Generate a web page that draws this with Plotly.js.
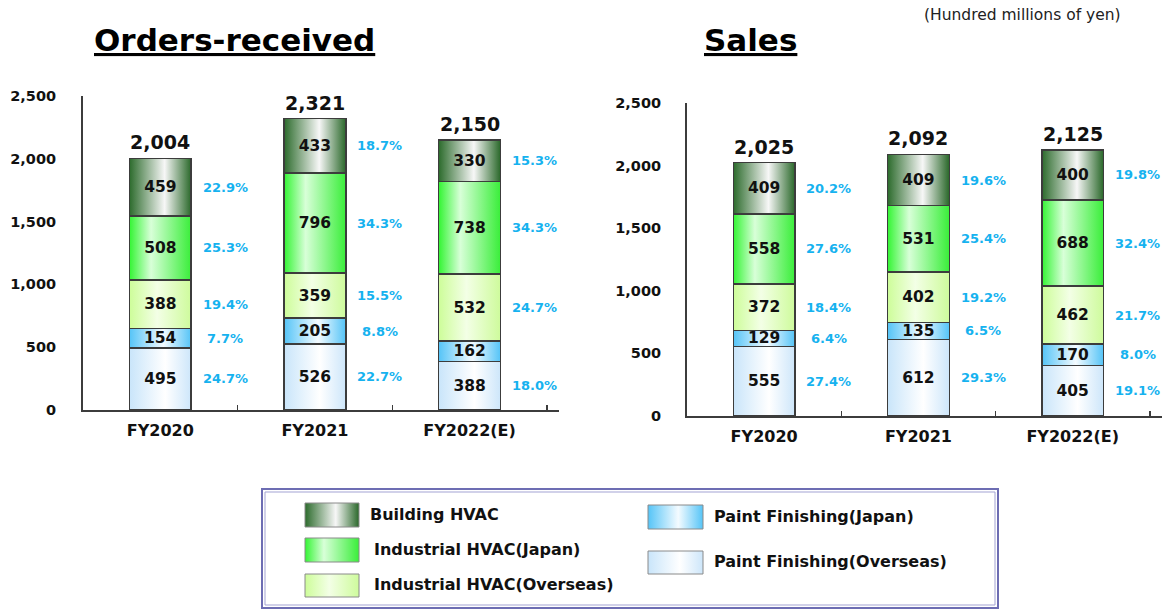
<!DOCTYPE html>
<html>
<head>
<meta charset="utf-8">
<script src="https://cdn.plot.ly/plotly-3.0.1.min.js"></script>
<style>
  html, body { margin: 0; padding: 0; background: #ffffff; }
  #chart { width: 1176px; height: 610px; }
</style>
</head>
<body>
<div id="chart"></div>
<script>
// ---------------- DATA ----------------
const categories = ['FY2020', 'FY2021', 'FY2022(E)'];
const seriesNames = ['Paint Finishing(Overseas)', 'Paint Finishing(Japan)', 'Industrial HVAC(Overseas)', 'Industrial HVAC(Japan)', 'Building HVAC'];

// Orders-received (Hundred millions of yen)
const ordersPaintOverseas = [495, 526, 388];
const ordersPaintJapan = [154, 205, 162];
const ordersIndustrialOverseas = [388, 359, 532];
const ordersIndustrialJapan = [508, 796, 738];
const ordersBuilding = [459, 433, 330];
const ordersTotals = [2004, 2321, 2150];
// share (%) labels, null = not shown
const ordersPctPaintOverseas = [24.7, 22.7, 18.0];
const ordersPctPaintJapan = [7.7, 8.8, null];
const ordersPctIndustrialOverseas = [19.4, 15.5, 24.7];
const ordersPctIndustrialJapan = [25.3, 34.3, 34.3];
const ordersPctBuilding = [22.9, 18.7, 15.3];

// Sales (Hundred millions of yen)
const salesPaintOverseas = [555, 612, 405];
const salesPaintJapan = [129, 135, 170];
const salesIndustrialOverseas = [372, 402, 462];
const salesIndustrialJapan = [558, 531, 688];
const salesBuilding = [409, 409, 400];
const salesTotals = [2025, 2092, 2125];
const salesPctPaintOverseas = [27.4, 29.3, 19.1];
const salesPctPaintJapan = [6.4, 6.5, 8.0];
const salesPctIndustrialOverseas = [18.4, 19.2, 21.7];
const salesPctIndustrialJapan = [27.6, 25.4, 32.4];
const salesPctBuilding = [20.2, 19.6, 19.8];

const yTickVals = [0, 500, 1000, 1500, 2000, 2500];
const yTickLabels = ['0', '500', '1,000', '1,500', '2,000', '2,500'];

const chartTitles = ['Orders-received', 'Sales'];
const unitNote = '(Hundred millions of yen)';

// ---------------- STYLE ----------------
const W = 1176, H = 610;
const px = x => x / W;
const py = y => 1 - y / H;
const FONT = 'DejaVu Sans, Verdana, sans-serif';
const PCT_COLOR = '#16b2ef';
const BORDER = '#3c3c3c';

// gradient stops (left -> right) and a solid fallback per series
const seriesStyles = [
  { solid: '#dff0fc', stops: [[0, '#c9e5fa'], [0.58, '#ffffff'], [1, '#cde6fa']] },
  { solid: '#8fd6fa', stops: [[0, '#55c4f7'], [0.55, '#f4fbff'], [1, '#55c4f7']] },
  { solid: '#e2ffc4', stops: [[0, '#cdfd99'], [0.45, '#f3ffe6'], [1, '#cefb9c']] },
  { solid: '#66ff66', stops: [[0, '#33f533'], [0.35, '#d8ffd8'], [1, '#3aee3a']] },
  { solid: '#7aa87a', stops: [[0, '#2c6b2c'], [0.57, '#f7f7f7'], [1, '#2a682a']] }
];

// ---------------- BUILD ----------------
const charts = [
  {
    values: [ordersPaintOverseas, ordersPaintJapan, ordersIndustrialOverseas, ordersIndustrialJapan, ordersBuilding],
    pcts: [ordersPctPaintOverseas, ordersPctPaintJapan, ordersPctIndustrialOverseas, ordersPctIndustrialJapan, ordersPctBuilding],
    totals: ordersTotals, xa: 'x', ya: 'y'
  },
  {
    values: [salesPaintOverseas, salesPaintJapan, salesIndustrialOverseas, salesIndustrialJapan, salesBuilding],
    pcts: [salesPctPaintOverseas, salesPctPaintJapan, salesPctIndustrialOverseas, salesPctIndustrialJapan, salesPctBuilding],
    totals: salesTotals, xa: 'x2', ya: 'y2'
  }
];

const data = [];
const annotations = [];

charts.forEach(ch => {
  const base = categories.map(() => 0);
  ch.values.forEach((vals, s) => {
    data.push({
      type: 'bar',
      name: seriesNames[s],
      x: categories,
      y: vals,
      xaxis: ch.xa,
      yaxis: ch.ya,
      marker: { color: seriesStyles[s].solid, line: { color: BORDER, width: 1.5 } },
      texttemplate: '%{y}',
      textposition: 'inside',
      insidetextanchor: 'middle',
      constraintext: 'none',
      textangle: 0,
      textfont: { family: FONT, size: 15.5, weight: 'bold', color: '#111111' },
      hoverinfo: 'skip',
      showlegend: false
    });
    vals.forEach((v, i) => {
      const p = ch.pcts[s][i];
      if (p !== null && p !== undefined) {
        annotations.push({
          xref: ch.xa, yref: ch.ya,
          x: i + 0.42, y: base[i] + v / 2,
          text: p.toFixed(1) + '%',
          showarrow: false, xanchor: 'center', yanchor: 'middle',
          font: { family: FONT, size: 13, weight: 'bold', color: PCT_COLOR }
        });
      }
      base[i] += v;
    });
  });
  ch.totals.forEach((t, i) => {
    annotations.push({
      xref: ch.xa, yref: ch.ya,
      x: categories[i], y: base[i],
      text: t.toLocaleString('en-US'),
      showarrow: false, xanchor: 'center', yanchor: 'bottom', yshift: 3,
      font: { family: FONT, size: 19, weight: 'bold', color: '#111111' }
    });
  });
});

// titles
annotations.push({
  xref: 'paper', yref: 'paper', x: px(234), y: py(40), xanchor: 'center', yanchor: 'middle',
  text: chartTitles[0], showarrow: false,
  font: { family: FONT, size: 31, weight: 'bold', color: '#000000', lineposition: 'under' }
});
annotations.push({
  xref: 'paper', yref: 'paper', x: px(750), y: py(40), xanchor: 'center', yanchor: 'middle',
  text: chartTitles[1], showarrow: false,
  font: { family: FONT, size: 31, weight: 'bold', color: '#000000', lineposition: 'under' }
});
annotations.push({
  xref: 'paper', yref: 'paper', x: px(1022), y: py(15), xanchor: 'center', yanchor: 'middle',
  text: unitNote, showarrow: false,
  font: { family: FONT, size: 15.5, color: '#222222' }
});

// legend (manual, two columns)
const shapes = [
  { type: 'rect', xref: 'paper', yref: 'paper', x0: px(262), x1: px(998), y0: py(489), y1: py(608),
    line: { color: '#6d6db3', width: 2 }, fillcolor: 'rgba(0,0,0,0)' },
  { type: 'rect', xref: 'paper', yref: 'paper', x0: px(265), x1: px(995), y0: py(492), y1: py(605),
    line: { color: '#a3a3d3', width: 1 }, fillcolor: 'rgba(0,0,0,0)' }
];
const legendOrder = [4, 3, 2, 1, 0];
const legendPos = [
  { x0: 305, x1: 359, y0: 503, y1: 527, tx: 368 },
  { x0: 305, x1: 359, y0: 538, y1: 562, tx: 372 },
  { x0: 305, x1: 359, y0: 574, y1: 597, tx: 372 },
  { x0: 648, x1: 703, y0: 505, y1: 529, tx: 712 },
  { x0: 648, x1: 703, y0: 551, y1: 574, tx: 712 }
];
legendOrder.forEach((s, j) => {
  const p = legendPos[j];
  shapes.push({
    type: 'rect', xref: 'paper', yref: 'paper',
    x0: px(p.x0), x1: px(p.x1), y0: py(p.y1), y1: py(p.y0),
    line: { color: '#8a8a8a', width: 1 }, fillcolor: seriesStyles[s].solid
  });
  annotations.push({
    xref: 'paper', yref: 'paper', x: px(p.tx), y: py((p.y0 + p.y1) / 2 - 1),
    xanchor: 'left', yanchor: 'middle', showarrow: false,
    text: seriesNames[s],
    font: { family: FONT, size: 16, weight: 'bold', color: '#111111' }
  });
});

function xAxis(d0, d1, anchor) {
  return {
    domain: [px(d0), px(d1)], anchor: anchor, type: 'category',
    showline: true, linecolor: BORDER, linewidth: 2,
    ticks: 'inside', tickson: 'boundaries', ticklen: 5, tickwidth: 1.5, tickcolor: BORDER,
    tickfont: { family: FONT, size: 16, weight: 'bold', color: '#111111' },
    ticklabelstandoff: 5,
    showgrid: false, zeroline: false, fixedrange: true
  };
}
function yAxis(b, t, anchor, standoff) {
  return {
    domain: [py(b), py(t)], anchor: anchor, range: [0, 2500],
    tickvals: yTickVals, ticktext: yTickLabels,
    showline: true, linecolor: BORDER, linewidth: 2,
    ticks: '', showgrid: false, zeroline: false, fixedrange: true,
    tickfont: { family: FONT, size: 14.5, weight: 'bold', color: '#111111' },
    ticklabelstandoff: standoff
  };
}

const layout = {
  width: W, height: H,
  margin: { l: 0, r: 0, t: 0, b: 0 },
  paper_bgcolor: '#ffffff', plot_bgcolor: 'rgba(0,0,0,0)',
  barmode: 'stack', bargap: 0.6,
  showlegend: false,
  xaxis: xAxis(83, 559, 'y'),
  yaxis: yAxis(410, 96, 'x', 22),
  xaxis2: xAxis(687, 1162, 'y2'),
  yaxis2: yAxis(416, 103, 'x2', 21),
  annotations: annotations,
  shapes: shapes
};

const gd = document.getElementById('chart');
Plotly.newPlot(gd, data, layout, { staticPlot: true, displayModeBar: false }).then(() => {
  const NS = 'http://www.w3.org/2000/svg';
  const svg = gd.querySelector('svg.main-svg');
  let defs = svg.querySelector('defs');
  if (!defs) { defs = document.createElementNS(NS, 'defs'); svg.insertBefore(defs, svg.firstChild); }
  seriesStyles.forEach((st, k) => {
    const lg = document.createElementNS(NS, 'linearGradient');
    lg.setAttribute('id', 'segGrad' + k);
    lg.setAttribute('x1', '0'); lg.setAttribute('y1', '0');
    lg.setAttribute('x2', '1'); lg.setAttribute('y2', '0');
    st.stops.forEach(([o, c]) => {
      const stop = document.createElementNS(NS, 'stop');
      stop.setAttribute('offset', o);
      stop.setAttribute('stop-color', c);
      lg.appendChild(stop);
    });
    defs.appendChild(lg);
  });
  gd.querySelectorAll('.barlayer g.trace').forEach(g => {
    const cd = g.__data__;
    const tr = cd && cd[0] && cd[0].trace;
    if (!tr) return;
    const k = seriesNames.indexOf(tr.name);
    if (k < 0) return;
    g.querySelectorAll('.point path').forEach(p => { p.style.fill = 'url(#segGrad' + k + ')'; });
  });
  gd.querySelectorAll('.shapelayer path').forEach(p => {
    const idx = +p.getAttribute('data-index');
    if (idx >= 2) {
      const s = legendOrder[idx - 2];
      p.style.fill = 'url(#segGrad' + s + ')';
    }
  });
});
</script>
</body>
</html>
